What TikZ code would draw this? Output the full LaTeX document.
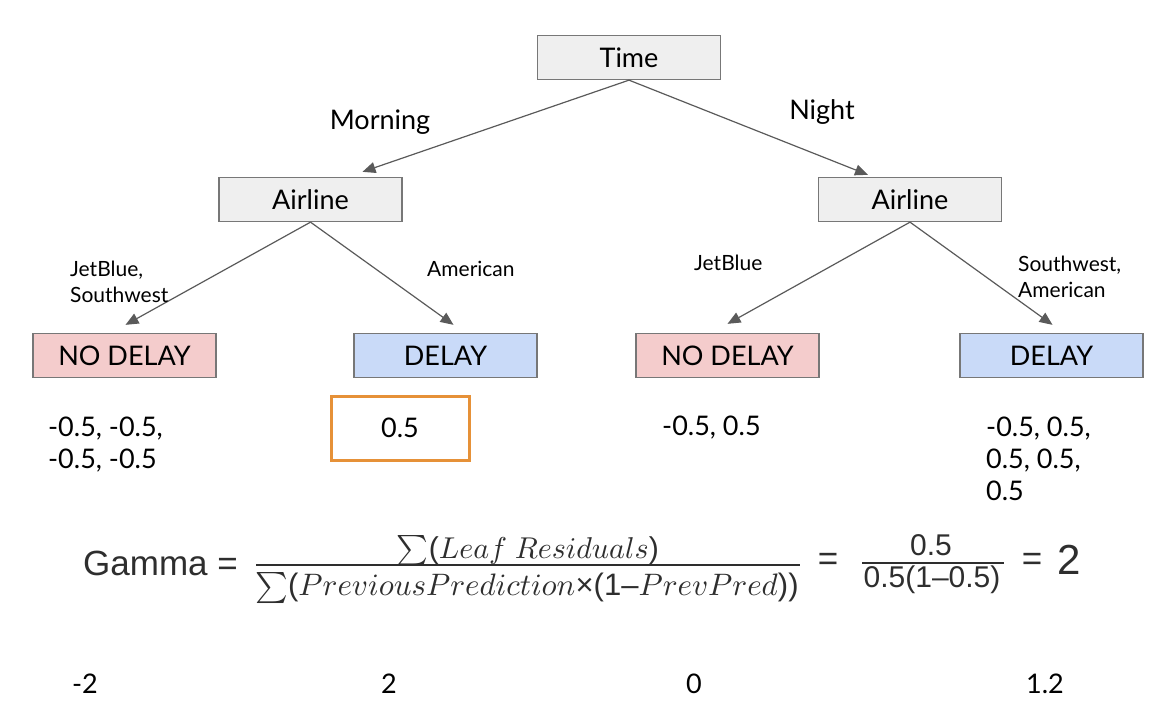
\documentclass[tikz,border=0pt]{standalone}
\usepackage{fontspec}
\setmainfont{Lato}
\newfontfamily\hel{Liberation Sans}
\usetikzlibrary{arrows.meta}
\definecolor{boxgray}{HTML}{EFEFEF}
\definecolor{boxpink}{HTML}{F4CCCC}
\definecolor{boxblue}{HTML}{C9DAF8}
\definecolor{edgegray}{HTML}{777777}
\definecolor{arrgray}{HTML}{5A5A5A}
\definecolor{orangeb}{HTML}{E69138}
\definecolor{formula}{HTML}{2E2E2E}
\tikzset{
  treebox/.style={draw=edgegray, line width=1.3pt, minimum width=183pt, minimum height=44pt, inner sep=0pt, font=\fontsize{27}{32}\selectfont},
  edgearrow/.style={draw=arrgray, line width=1.2pt, -{Triangle[length=13pt,width=11pt]}},
  small/.style={font=\fontsize{21}{26}\selectfont, inner sep=0pt, align=left},
  big/.style={font=\fontsize{27}{32}\selectfont, inner sep=0pt, align=left},
  hsans/.style={font=\hel\fontsize{35}{40}\selectfont, text=formula, inner sep=0pt},
  hsmall/.style={font=\hel\fontsize{30}{34}\selectfont, text=formula, inner sep=0pt},
  fracline/.style={draw=formula, line width=2.6pt}
}
\begin{document}
\begin{tikzpicture}[x=1pt,y=-1pt]
\useasboundingbox (0,0) rectangle (1164,714);
% tree boxes
\node[treebox, fill=boxgray] (time) at (629,57.5) {Time};
\node[treebox, fill=boxgray] (airL) at (310.5,199.5) {Airline};
\node[treebox, fill=boxgray] (airR) at (910,199.5) {Airline};
\node[treebox, fill=boxpink] (ndL) at (124.5,355.5) {NO DELAY};
\node[treebox, fill=boxblue] (dL) at (445.5,355.5) {DELAY};
\node[treebox, fill=boxpink] (ndR) at (727.5,355.5) {NO DELAY};
\node[treebox, fill=boxblue] (dR) at (1051.5,355.5) {DELAY};
% arrows
\draw[edgearrow] (time.south) -- ([xshift=52pt,yshift=5pt]airL.north);
\draw[edgearrow] (time.south) -- ([xshift=-42pt,yshift=2pt]airR.north);
\draw[edgearrow] (airL.south) -- ([xshift=1pt,yshift=8pt]ndL.north);
\draw[edgearrow] (airL.south) -- ([xshift=8pt,yshift=8pt]dL.north);
\draw[edgearrow] (airR.south) -- ([xshift=0pt,yshift=9pt]ndR.north);
\draw[edgearrow] (airR.south) -- ([xshift=1pt,yshift=8pt]dR.north);
% edge labels
\node[big] (lmorn) at (380,122.5) {Morning};
\node[big] (lnight) at (822,112.5) {Night};
\node[small, anchor=north west] (ljs) at (70,261) {JetBlue,\\Southwest};
\node[small, anchor=north west] (lam) at (427,261) {American};
\node[small, anchor=north west] (ljb) at (694,255) {JetBlue};
\node[small, anchor=north west] (lsa) at (1018,256) {Southwest,\\American};
% residual values
\node[big, anchor=north west] (v1) at (48,417) {-0.5, -0.5,\\-0.5, -0.5};
\node[draw=orangeb, line width=3pt, minimum width=138pt, minimum height=64pt, inner sep=0pt] (obox) at (400,428) {};
\node[big] (v2) at (obox.center) {0.5};
\node[big, anchor=north west] (v3) at (662,416) {-0.5, 0.5};
\node[big, anchor=north west] (v4) at (986,417) {-0.5, 0.5,\\0.5, 0.5,\\0.5};
% formula
\node[hsans, anchor=base west] (gam) at (83,575) {Gamma =};
\coordinate (f1a) at (256,565);
\coordinate (f1b) at (800,565);
\draw[fracline] (f1a) -- (f1b);
\node[text=formula, inner sep=0pt] (num1) at (528,551) {\resizebox{262pt}{!}{${\textstyle\sum}\mbox{\hel(}Leaf\ Residuals\mbox{\hel)}$}};
\node[text=formula, inner sep=0pt] (den1) at (527,588) {\resizebox{543pt}{!}{${\textstyle\sum}\mbox{\hel(}PreviousPrediction\mbox{\hel{}×(1–}PrevPred\mbox{\hel))}$}};
\node[hsans] (eq1) at (828,562) {=};
\coordinate (f2a) at (862,563);
\coordinate (f2b) at (1004,563);
\draw[fracline] (f2a) -- (f2b);
\node[hsmall] (num2) at (931,545) {0.5};
\node[hsmall] (den2) at (932,580) {0.5(1–0.5)};
\node[hsans] (eq2) at (1032,562) {=};
\node[font=\hel\fontsize{42}{46}\selectfont, text=formula, inner sep=0pt] (two) at (1069,560) {2};
% output values
\node[big] (o1) at (85,684) {-2};
\node[big] (o2) at (389,684) {2};
\node[big] (o3) at (694,684) {0};
\node[big] (o4) at (1045,684) {1.2};
\end{tikzpicture}
\end{document}
